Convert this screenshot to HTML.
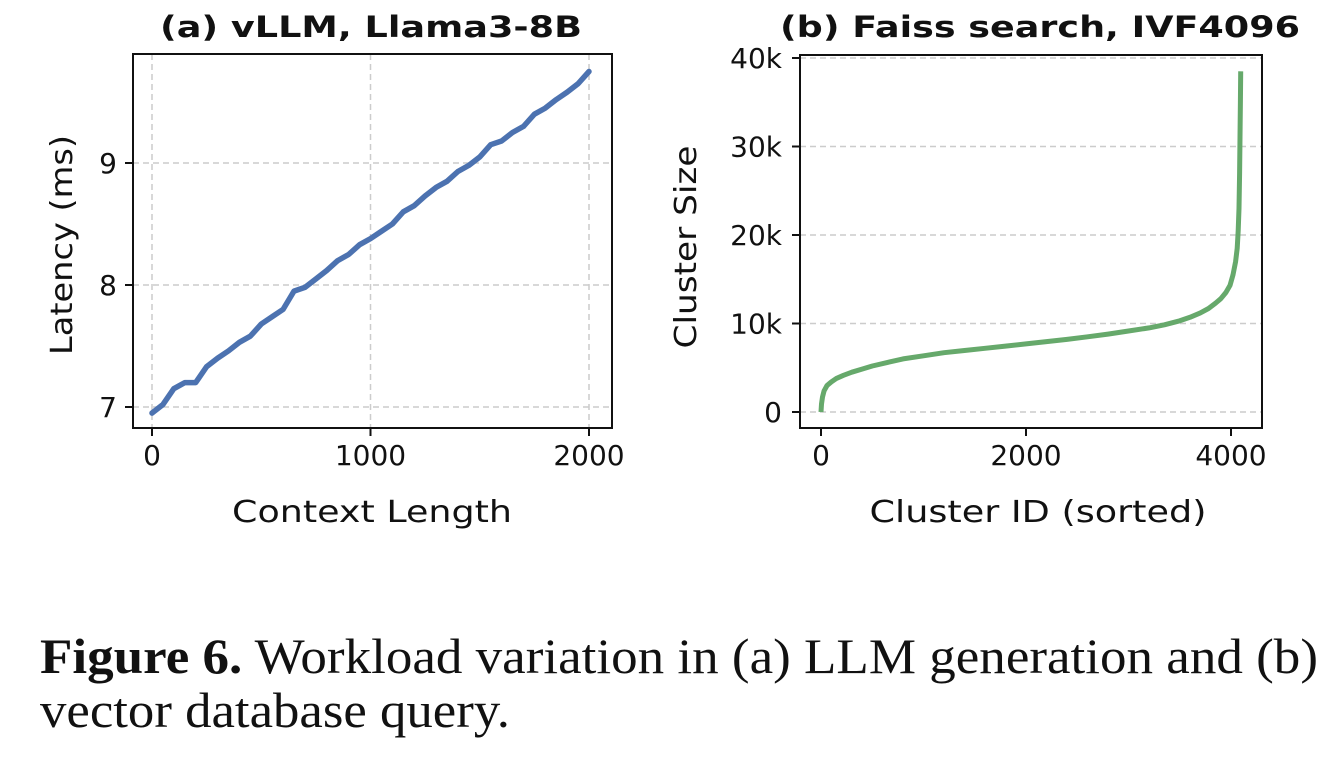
<!DOCTYPE html>
<html><head><meta charset="utf-8"><style>
html,body{margin:0;padding:0;background:#fff;}
svg{display:block;}
text{font-family:"DejaVu Sans","Liberation Sans",sans-serif;fill:#111;}
.cap{font-family:"Liberation Serif",serif;}
</style></head><body>
<svg id="fig" width="1334" height="760" viewBox="0 0 1334 760" xmlns="http://www.w3.org/2000/svg">
<g id="chartA"></g>
<g id="chartB"></g>
<text class="cap" x="40" y="673" font-size="50" textLength="1278" lengthAdjust="spacingAndGlyphs"><tspan font-weight="bold">Figure 6.</tspan> Workload variation in (a) LLM generation and (b)</text>
<text class="cap" x="40" y="727" font-size="50" textLength="470" lengthAdjust="spacingAndGlyphs">vector database query.</text>
</svg>
<script>
const ctxLen = [0,50,100,150,200,250,300,350,400,450,500,550,600,650,700,750,800,850,900,950,1000,1050,1100,1150,1200,1250,1300,1350,1400,1450,1500,1550,1600,1650,1700,1750,1800,1850,1900,1950,2000];
const latency = [6.95,7.02,7.15,7.2,7.2,7.33,7.4,7.46,7.53,7.58,7.68,7.74,7.8,7.95,7.98,8.05,8.12,8.2,8.25,8.33,8.38,8.44,8.5,8.6,8.65,8.73,8.8,8.85,8.93,8.98,9.05,9.15,9.18,9.25,9.3,9.4,9.45,9.52,9.58,9.65,9.75];
const aXTicks = [0,1000,2000];
const aYTicks = [7,8,9];
const clusterId = [0,5,15,30,60,100,150,220,300,400,500,650,800,1000,1200,1400,1600,1800,2000,2200,2400,2600,2800,3000,3200,3350,3500,3600,3700,3780,3850,3900,3950,3990,4020,4045,4060,4070,4078,4084,4088,4092,4095];
const clusterSize = [0,900,1700,2400,3000,3400,3800,4150,4500,4850,5200,5600,6000,6350,6700,6950,7200,7450,7700,7950,8200,8500,8800,9150,9500,9850,10300,10700,11200,11700,12300,12800,13500,14300,15500,17000,18500,20500,23000,27000,31000,35000,38500];
const bXTicks = [0,2000,4000];
const bYTicks = [0,10000,20000,30000,40000];
const bYLabels = ["0","10k","20k","30k","40k"];
const NS="http://www.w3.org/2000/svg";
function mk(parent,tag,attrs,txt){const e=document.createElementNS(NS,tag);for(const k in attrs)e.setAttribute(k,attrs[k]);if(txt!==undefined)e.textContent=txt;parent.appendChild(e);return e;}

// Chart A
const gA=document.getElementById('chartA');
const ax=v=>152+(v-0)*(589-152)/2000;
const ay=v=>407-(v-7)*122;
for(const t of aXTicks){const l=mk(gA,'line',{x1:ax(t),x2:ax(t),y1:54,y2:428,stroke:'#ccc','stroke-width':1.5,'stroke-dasharray':'6,4'});

}
for(const t of aYTicks){const l=mk(gA,'line',{x1:133,x2:612,y1:ay(t),y2:ay(t),stroke:'#ccc','stroke-width':1.5,'stroke-dasharray':'6,4'});

}
let d='';ctxLen.forEach((x,i)=>{d+=(i?'L':'M')+ax(x).toFixed(1)+','+ay(latency[i]).toFixed(1);});
const pA=mk(gA,'path',{d:d,fill:'none',stroke:'#4c72b0','stroke-width':5.5,'stroke-linejoin':'round','stroke-linecap':'round'});


const fA=mk(gA,'rect',{x:133,y:54,width:479,height:374,fill:'none',stroke:'#111','stroke-width':2});


for(const t of aXTicks){mk(gA,'line',{x1:ax(t),x2:ax(t),y1:428,y2:436,stroke:'#111','stroke-width':2});
const tx=mk(gA,'text',{x:ax(t),y:465,'font-size':28,'text-anchor':'middle'},String(t));

}
for(const t of aYTicks){mk(gA,'line',{x1:125,x2:133,y1:ay(t),y2:ay(t),stroke:'#111','stroke-width':2});
const tx=mk(gA,'text',{x:117,y:ay(t)+10,'font-size':28,'text-anchor':'end'},String(t));

}
const tA=mk(gA,'text',{x:371,y:37,'font-size':29,'font-weight':'bold','text-anchor':'middle',textLength:422,lengthAdjust:'spacingAndGlyphs'},'(a) vLLM, Llama3-8B');


const xlA=mk(gA,'text',{x:372,y:522,'font-size':30,'text-anchor':'middle',textLength:280,lengthAdjust:'spacingAndGlyphs'},'Context Length');


const ylA=mk(gA,'text',{x:0,y:0,'font-size':30,'text-anchor':'middle',transform:'translate(72,245) rotate(-90)',textLength:220,lengthAdjust:'spacingAndGlyphs'},'Latency (ms)');



// Chart B
const gB=document.getElementById('chartB');
const bx=v=>821+v*(1231-821)/4000;
const by=v=>412-v*(412-58)/40000;
for(const t of bYTicks){const l=mk(gB,'line',{x1:800,x2:1262,y1:by(t),y2:by(t),stroke:'#ccc','stroke-width':1.5,'stroke-dasharray':'6,4'});

}
let d2='';clusterId.forEach((x,i)=>{d2+=(i?'L':'M')+bx(x).toFixed(1)+','+by(clusterSize[i]).toFixed(1);});
const pB=mk(gB,'path',{d:d2,fill:'none',stroke:'#66a96b','stroke-width':5,'stroke-linejoin':'round'});


const fB=mk(gB,'rect',{x:800,y:55,width:462,height:373,fill:'none',stroke:'#111','stroke-width':2});


for(const t of bXTicks){mk(gB,'line',{x1:bx(t),x2:bx(t),y1:428,y2:436,stroke:'#111','stroke-width':2});
const tx=mk(gB,'text',{x:bx(t),y:465,'font-size':28,'text-anchor':'middle'},String(t));

}
bYTicks.forEach((t,i)=>{mk(gB,'line',{x1:792,x2:800,y1:by(t),y2:by(t),stroke:'#111','stroke-width':2});
const tx=mk(gB,'text',{x:782,y:by(t)+10,'font-size':28,'text-anchor':'end'},bYLabels[i]);

});
const tB=mk(gB,'text',{x:1040,y:37,'font-size':29,'font-weight':'bold','text-anchor':'middle',textLength:520,lengthAdjust:'spacingAndGlyphs'},'(b) Faiss search, IVF4096');


const xlB=mk(gB,'text',{x:1038,y:522,'font-size':30,'text-anchor':'middle',textLength:337,lengthAdjust:'spacingAndGlyphs'},'Cluster ID (sorted)');


const ylB=mk(gB,'text',{x:0,y:0,'font-size':30,'text-anchor':'middle',transform:'translate(696,247) rotate(-90)',textLength:203,lengthAdjust:'spacingAndGlyphs'},'Cluster Size');


</script>
</body></html>
